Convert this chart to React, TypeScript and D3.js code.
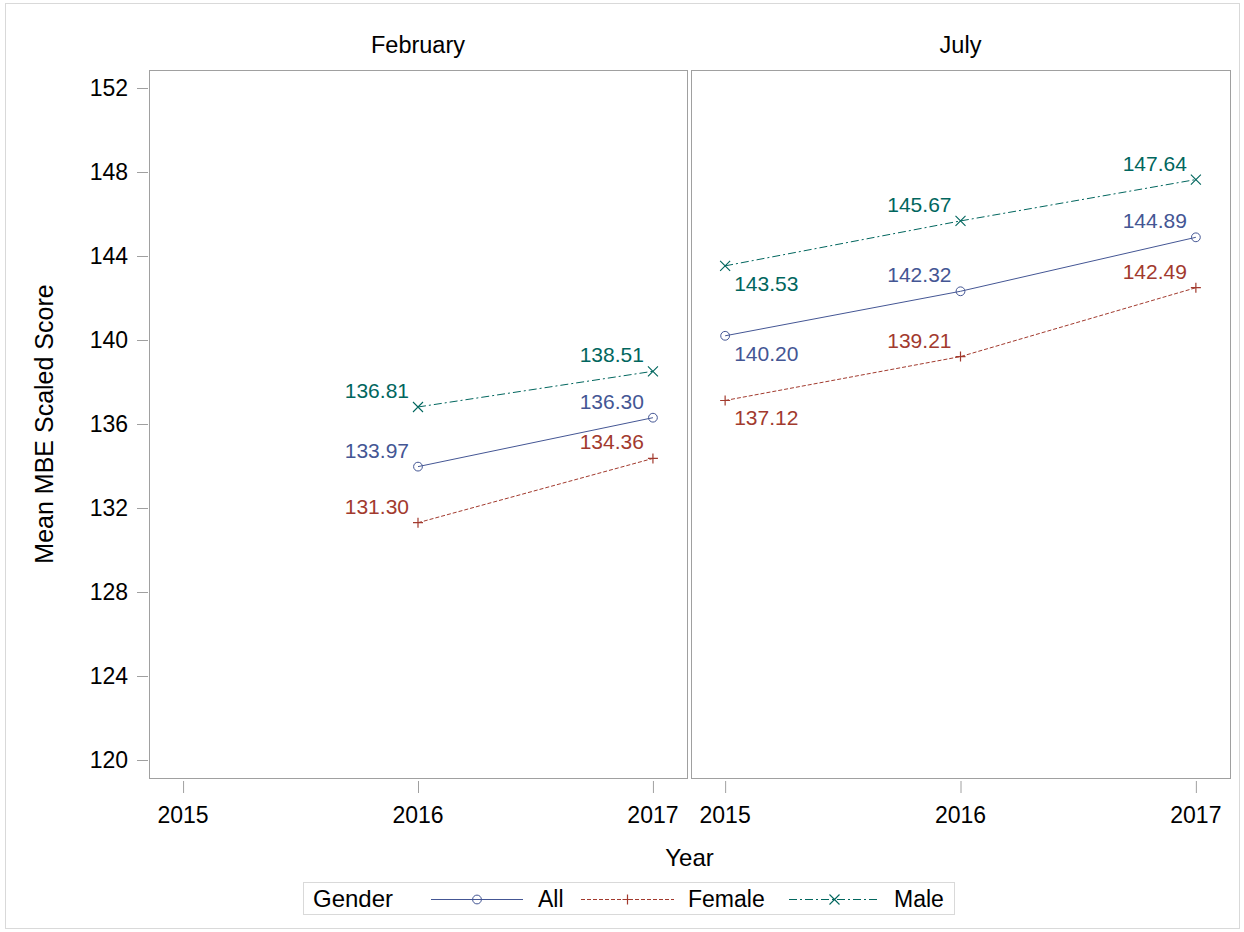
import React from "react";
import * as d3 from "d3";

const years = ["2015", "2016", "2017"];
const panels = ["February", "July"];
const groups = ["All", "Female", "Male"];

const febYears = ["2016", "2017"];
const febAll = [133.97, 136.3];
const febFemale = [131.3, 134.36];
const febMale = [136.81, 138.51];

const julYears = ["2015", "2016", "2017"];
const julAll = [140.2, 142.32, 144.89];
const julFemale = [137.12, 139.21, 142.49];
const julMale = [143.53, 145.67, 147.64];

const yTicks = [120, 124, 128, 132, 136, 140, 144, 148, 152];

const colors: Record<string, string> = { All: "#445694", Female: "#A23A2E", Male: "#01665E" };
const dashes: Record<string, string | undefined> = { All: undefined, Female: "4,2", Male: "8,3,2,3" };

const FONT = "'Liberation Sans', Arial, sans-serif";
const FRAME = "#a0a0a0";

function Marker({ g, x, y }: { g: string; x: number; y: number }) {
  const c = colors[g];
  if (g === "All") return <circle cx={x} cy={y} r={4.4} fill="none" stroke={c} strokeWidth={1} />;
  if (g === "Female")
    return (
      <path d={`M${x - 5},${y}H${x + 5}M${x},${y - 5}V${y + 5}`} stroke={c} strokeWidth={1.2} fill="none" />
    );
  return (
    <path d={`M${x - 5},${y - 5}L${x + 5},${y + 5}M${x - 5},${y + 5}L${x + 5},${y - 5}`} stroke={c} strokeWidth={1.1} fill="none" />
  );
}

export default function App() {
  const top = 70;
  const bottom = 778;
  const y = d3.scaleLinear().domain([119.143, 152.857]).range([bottom, top]);
  const panelX = [
    [149, 687],
    [691, 1230],
  ];
  const xs = panelX.map(([a, b]) => d3.scalePoint<string>().domain(years).range([a, b]).padding(0.145));

  const panelData = [
    { years: febYears, series: { All: febAll, Female: febFemale, Male: febMale } as Record<string, number[]> },
    { years: julYears, series: { All: julAll, Female: julFemale, Male: julMale } as Record<string, number[]> },
  ];

  return (
    <svg width={1244} height={932} style={{ position: "absolute", left: 0, top: 0, background: "#fff" }} fontFamily={FONT}>
      <rect x={0} y={0} width={1244} height={932} fill="#fff" />
      <rect x={5.5} y={3.5} width={1234} height={925} fill="none" stroke="#d9d9d9" />
      {panels.map((p, i) => {
        const [a, b] = panelX[i];
        const x = xs[i];
        const pd = panelData[i];
        return (
          <g key={p}>
            <text x={(a + b) / 2} y={53} textAnchor="middle" fontSize={23.5} fill="#000">
              {p}
            </text>
            <rect x={a + 0.5} y={top + 0.5} width={b - a} height={bottom - top} fill="none" stroke={FRAME} />
            {years.map((yr) => (
              <g key={yr}>
                <line x1={x(yr)! + 0.5} x2={x(yr)! + 0.5} y1={bottom + 3} y2={bottom + 15} stroke={FRAME} />
                <text x={x(yr)!} y={823} textAnchor="middle" fontSize={23} fill="#000">
                  {yr}
                </text>
              </g>
            ))}
            {groups.map((g) => {
              const vals = pd.series[g];
              const line = d3
                .line<number>()
                .x((_, k) => x(pd.years[k])!)
                .y((v) => y(v));
              return (
                <g key={g}>
                  <path d={line(vals)!} fill="none" stroke={colors[g]} strokeWidth={1} strokeDasharray={dashes[g]} />
                  {vals.map((v, k) => {
                    const px = x(pd.years[k])!;
                    const py = y(v);
                    const belowRight = i === 1 && pd.years[k] === "2015";
                    return (
                      <g key={k}>
                        <Marker g={g} x={px} y={py} />
                        <text
                          x={belowRight ? px + 9 : px - 9}
                          y={belowRight ? py + 25 : py - 9}
                          textAnchor={belowRight ? "start" : "end"}
                          fontSize={21}
                          fill={colors[g]}
                        >
                          {v.toFixed(2)}
                        </text>
                      </g>
                    );
                  })}
                </g>
              );
            })}
          </g>
        );
      })}
      {yTicks.map((t) => (
        <g key={t}>
          <line x1={137} x2={148} y1={Math.round(y(t)) + 0.5} y2={Math.round(y(t)) + 0.5} stroke={FRAME} />
          <text x={128} y={y(t) + 8} textAnchor="end" fontSize={23} fill="#000">
            {t}
          </text>
        </g>
      ))}
      <text
        transform={`translate(53,${(top + bottom) / 2}) rotate(-90)`}
        textAnchor="middle"
        fontSize={25}
        fill="#000"
      >
        Mean MBE Scaled Score
      </text>
      <text x={(149 + 1230) / 2} y={866} textAnchor="middle" fontSize={24} fill="#000">
        Year
      </text>
      <g>
        <rect x={303.5} y={882.5} width={651} height={32} fill="#fff" stroke="#d9d9d9" />
        <text x={313} y={907} fontSize={24} fill="#000">
          Gender
        </text>
        {groups.map((g, k) => {
          const x0 = [431, 581, 789][k];
          const x1 = [523, 674, 880][k];
          const tx = [538, 688, 894][k];
          const cy = 899;
          return (
            <g key={g}>
              <line x1={x0} x2={x1} y1={cy + 0.5} y2={cy + 0.5} stroke={colors[g]} strokeDasharray={dashes[g]} />
              <Marker g={g} x={(x0 + x1) / 2} y={cy + 0.5} />
              <text x={tx} y={907} fontSize={23} fill="#000">
                {g}
              </text>
            </g>
          );
        })}
      </g>
    </svg>
  );
}
